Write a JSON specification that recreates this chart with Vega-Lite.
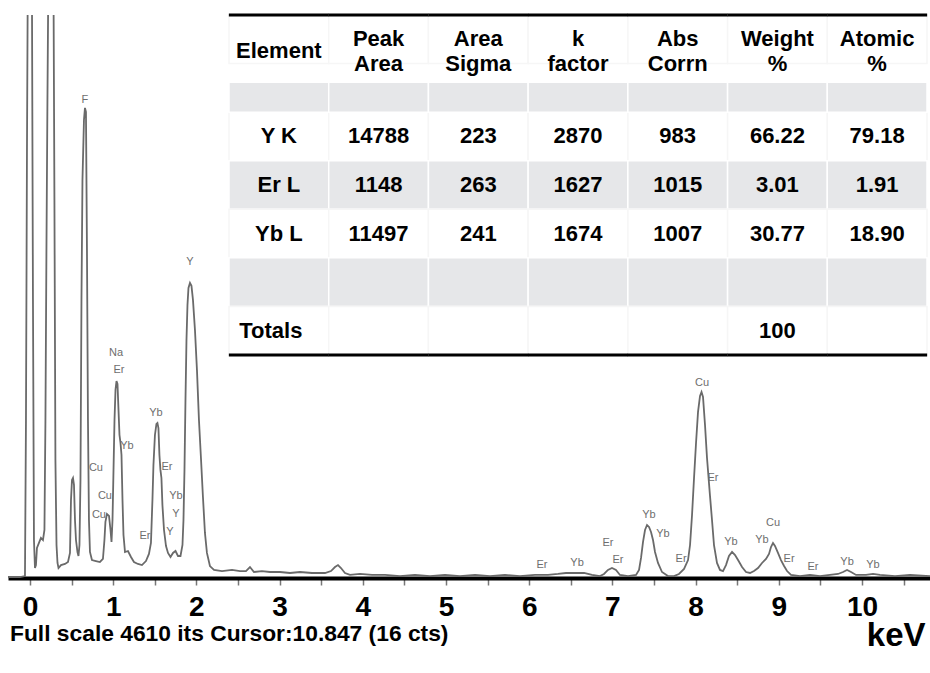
{
  "$schema": "https://vega.github.io/schema/vega-lite/v6.json",
  "width": 922,
  "height": 563,
  "autosize": {"type": "none"},
  "padding": {"left": 8, "top": 15, "right": 0, "bottom": 95},
  "background": "white",
  "config": {"view": {"stroke": null}, "font": "Liberation Sans"},
  "title": {
    "text": "Full scale 4610 its Cursor:10.847 (16 cts)",
    "orient": "bottom",
    "anchor": "start",
    "frame": "group",
    "font": "Liberation Sans",
    "fontSize": 22.8,
    "fontWeight": "bold",
    "color": "black",
    "offset": 0,
    "dx": 2,
    "dy": -29
  },
  "datasets": {
    "spectrum": [
      {"keV": -0.264, "counts": 8}, {"keV": -0.12, "counts": 8}, {"keV": -0.06, "counts": 16}, {"keV": -0.048, "counts": 1294}, {"keV": -0.036, "counts": 3505}, {"keV": -0.024, "counts": 5200}, {"keV": -0.006, "counts": 12000}, {"keV": 0.018, "counts": 6000}, {"keV": 0.036, "counts": 2277}, {"keV": 0.048, "counts": 311}, {"keV": 0.06, "counts": 82}, {"keV": 0.072, "counts": 106}, {"keV": 0.084, "counts": 246}, {"keV": 0.108, "counts": 287}, {"keV": 0.132, "counts": 328}, {"keV": 0.156, "counts": 311}, {"keV": 0.174, "counts": 393}, {"keV": 0.186, "counts": 1294}, {"keV": 0.198, "counts": 2686}, {"keV": 0.21, "counts": 3915}, {"keV": 0.222, "counts": 5000}, {"keV": 0.252, "counts": 14000}, {"keV": 0.282, "counts": 5000}, {"keV": 0.294, "counts": 3096}, {"keV": 0.306, "counts": 966}, {"keV": 0.319, "counts": 270}, {"keV": 0.331, "counts": 123}, {"keV": 0.343, "counts": 82}, {"keV": 0.373, "counts": 106}, {"keV": 0.421, "counts": 115}, {"keV": 0.457, "counts": 131}, {"keV": 0.481, "counts": 205}, {"keV": 0.493, "counts": 639}, {"keV": 0.505, "counts": 803}, {"keV": 0.517, "counts": 819}, {"keV": 0.529, "counts": 762}, {"keV": 0.541, "counts": 475}, {"keV": 0.553, "counts": 311}, {"keV": 0.571, "counts": 213}, {"keV": 0.583, "counts": 180}, {"keV": 0.595, "counts": 270}, {"keV": 0.607, "counts": 803}, {"keV": 0.619, "counts": 2277}, {"keV": 0.631, "counts": 3260}, {"keV": 0.649, "counts": 3751}, {"keV": 0.661, "counts": 3849}, {"keV": 0.673, "counts": 3817}, {"keV": 0.685, "counts": 2686}, {"keV": 0.697, "counts": 1294}, {"keV": 0.709, "counts": 475}, {"keV": 0.721, "counts": 213}, {"keV": 0.745, "counts": 147}, {"keV": 0.793, "counts": 139}, {"keV": 0.841, "counts": 131}, {"keV": 0.877, "counts": 156}, {"keV": 0.895, "counts": 311}, {"keV": 0.907, "counts": 459}, {"keV": 0.925, "counts": 524}, {"keV": 0.95, "counts": 508}, {"keV": 0.968, "counts": 393}, {"keV": 0.98, "counts": 295}, {"keV": 0.992, "counts": 475}, {"keV": 1.004, "counts": 885}, {"keV": 1.016, "counts": 1294}, {"keV": 1.028, "counts": 1540}, {"keV": 1.04, "counts": 1613}, {"keV": 1.052, "counts": 1589}, {"keV": 1.064, "counts": 1376}, {"keV": 1.076, "counts": 1171}, {"keV": 1.088, "counts": 1106}, {"keV": 1.1, "counts": 1007}, {"keV": 1.112, "counts": 639}, {"keV": 1.124, "counts": 352}, {"keV": 1.142, "counts": 213}, {"keV": 1.178, "counts": 221}, {"keV": 1.214, "counts": 172}, {"keV": 1.25, "counts": 131}, {"keV": 1.298, "counts": 115}, {"keV": 1.346, "counts": 106}, {"keV": 1.394, "counts": 139}, {"keV": 1.43, "counts": 197}, {"keV": 1.454, "counts": 287}, {"keV": 1.472, "counts": 639}, {"keV": 1.484, "counts": 925}, {"keV": 1.502, "counts": 1171}, {"keV": 1.52, "counts": 1261}, {"keV": 1.532, "counts": 1269}, {"keV": 1.544, "counts": 1228}, {"keV": 1.556, "counts": 1007}, {"keV": 1.568, "counts": 885}, {"keV": 1.58, "counts": 819}, {"keV": 1.592, "counts": 598}, {"keV": 1.611, "counts": 393}, {"keV": 1.635, "counts": 262}, {"keV": 1.659, "counts": 205}, {"keV": 1.689, "counts": 172}, {"keV": 1.719, "counts": 205}, {"keV": 1.749, "counts": 221}, {"keV": 1.779, "counts": 180}, {"keV": 1.809, "counts": 180}, {"keV": 1.833, "counts": 270}, {"keV": 1.845, "counts": 475}, {"keV": 1.857, "counts": 885}, {"keV": 1.869, "counts": 1458}, {"keV": 1.881, "counts": 1949}, {"keV": 1.893, "counts": 2236}, {"keV": 1.905, "counts": 2375}, {"keV": 1.923, "counts": 2416}, {"keV": 1.941, "counts": 2392}, {"keV": 1.959, "counts": 2277}, {"keV": 1.983, "counts": 2031}, {"keV": 2.007, "counts": 1704}, {"keV": 2.031, "counts": 1294}, {"keV": 2.055, "counts": 983}, {"keV": 2.079, "counts": 663}, {"keV": 2.103, "counts": 369}, {"keV": 2.127, "counts": 205}, {"keV": 2.163, "counts": 98}, {"keV": 2.212, "counts": 66}, {"keV": 2.308, "counts": 57}, {"keV": 2.428, "counts": 66}, {"keV": 2.524, "counts": 57}, {"keV": 2.596, "counts": 57}, {"keV": 2.644, "counts": 90}, {"keV": 2.692, "counts": 49}, {"keV": 2.788, "counts": 57}, {"keV": 2.885, "counts": 49}, {"keV": 3.005, "counts": 49}, {"keV": 3.125, "counts": 41}, {"keV": 3.245, "counts": 49}, {"keV": 3.389, "counts": 41}, {"keV": 3.546, "counts": 41}, {"keV": 3.618, "counts": 57}, {"keV": 3.666, "counts": 90}, {"keV": 3.702, "counts": 106}, {"keV": 3.738, "counts": 82}, {"keV": 3.786, "counts": 41}, {"keV": 3.846, "counts": 25}, {"keV": 3.966, "counts": 33}, {"keV": 4.111, "counts": 25}, {"keV": 4.267, "counts": 25}, {"keV": 4.447, "counts": 16}, {"keV": 4.627, "counts": 25}, {"keV": 4.808, "counts": 16}, {"keV": 4.988, "counts": 25}, {"keV": 5.168, "counts": 16}, {"keV": 5.349, "counts": 25}, {"keV": 5.529, "counts": 16}, {"keV": 5.709, "counts": 25}, {"keV": 5.889, "counts": 16}, {"keV": 6.07, "counts": 25}, {"keV": 6.226, "counts": 25}, {"keV": 6.346, "counts": 33}, {"keV": 6.442, "counts": 41}, {"keV": 6.55, "counts": 41}, {"keV": 6.659, "counts": 41}, {"keV": 6.755, "counts": 25}, {"keV": 6.851, "counts": 16}, {"keV": 6.899, "counts": 33}, {"keV": 6.947, "counts": 66}, {"keV": 6.995, "counts": 82}, {"keV": 7.043, "counts": 66}, {"keV": 7.091, "counts": 25}, {"keV": 7.188, "counts": 16}, {"keV": 7.284, "counts": 25}, {"keV": 7.32, "counts": 66}, {"keV": 7.344, "counts": 164}, {"keV": 7.368, "counts": 295}, {"keV": 7.392, "counts": 393}, {"keV": 7.416, "counts": 434}, {"keV": 7.44, "counts": 418}, {"keV": 7.464, "counts": 377}, {"keV": 7.488, "counts": 311}, {"keV": 7.512, "counts": 213}, {"keV": 7.548, "counts": 123}, {"keV": 7.596, "counts": 49}, {"keV": 7.668, "counts": 16}, {"keV": 7.74, "counts": 16}, {"keV": 7.8, "counts": 33}, {"keV": 7.861, "counts": 74}, {"keV": 7.909, "counts": 147}, {"keV": 7.933, "counts": 270}, {"keV": 7.957, "counts": 516}, {"keV": 7.981, "counts": 819}, {"keV": 8.005, "counts": 1106}, {"keV": 8.029, "counts": 1360}, {"keV": 8.053, "counts": 1491}, {"keV": 8.071, "counts": 1523}, {"keV": 8.089, "counts": 1482}, {"keV": 8.113, "counts": 1253}, {"keV": 8.137, "counts": 983}, {"keV": 8.155, "counts": 827}, {"keV": 8.173, "counts": 672}, {"keV": 8.197, "counts": 475}, {"keV": 8.221, "counts": 270}, {"keV": 8.257, "counts": 123}, {"keV": 8.293, "counts": 66}, {"keV": 8.329, "counts": 57}, {"keV": 8.365, "counts": 106}, {"keV": 8.401, "counts": 180}, {"keV": 8.438, "counts": 213}, {"keV": 8.474, "counts": 188}, {"keV": 8.51, "counts": 147}, {"keV": 8.558, "counts": 90}, {"keV": 8.606, "counts": 49}, {"keV": 8.654, "counts": 41}, {"keV": 8.702, "counts": 57}, {"keV": 8.75, "counts": 82}, {"keV": 8.798, "counts": 123}, {"keV": 8.846, "counts": 156}, {"keV": 8.882, "counts": 197}, {"keV": 8.906, "counts": 254}, {"keV": 8.93, "counts": 287}, {"keV": 8.954, "counts": 262}, {"keV": 8.99, "counts": 205}, {"keV": 9.026, "counts": 147}, {"keV": 9.063, "counts": 98}, {"keV": 9.099, "counts": 57}, {"keV": 9.147, "counts": 25}, {"keV": 9.255, "counts": 16}, {"keV": 9.375, "counts": 25}, {"keV": 9.495, "counts": 16}, {"keV": 9.615, "counts": 25}, {"keV": 9.712, "counts": 33}, {"keV": 9.772, "counts": 49}, {"keV": 9.82, "counts": 66}, {"keV": 9.868, "counts": 49}, {"keV": 9.928, "counts": 25}, {"keV": 10.048, "counts": 25}, {"keV": 10.132, "counts": 33}, {"keV": 10.216, "counts": 25}, {"keV": 10.397, "counts": 16}, {"keV": 10.577, "counts": 25}, {"keV": 10.817, "counts": 16}
    ],
    "peaks": [
      {"label": "F", "keV": 0.661, "counts": 3915},
      {"label": "Y", "keV": 1.923, "counts": 2588},
      {"label": "Na", "keV": 1.034, "counts": 1843},
      {"label": "Er", "keV": 1.07, "counts": 1704},
      {"label": "Yb", "keV": 1.166, "counts": 1081},
      {"label": "Cu", "keV": 0.793, "counts": 901},
      {"label": "Cu", "keV": 0.901, "counts": 672},
      {"label": "Cu", "keV": 0.829, "counts": 516},
      {"label": "Yb", "keV": 1.514, "counts": 1351},
      {"label": "Er", "keV": 1.647, "counts": 909},
      {"label": "Yb", "keV": 1.755, "counts": 672},
      {"label": "Y", "keV": 1.755, "counts": 524},
      {"label": "Y", "keV": 1.683, "counts": 377},
      {"label": "Er", "keV": 1.382, "counts": 344},
      {"label": "Er", "keV": 6.154, "counts": 106},
      {"label": "Yb", "keV": 6.575, "counts": 123},
      {"label": "Er", "keV": 6.947, "counts": 287},
      {"label": "Er", "keV": 7.067, "counts": 147},
      {"label": "Yb", "keV": 7.44, "counts": 516},
      {"label": "Yb", "keV": 7.608, "counts": 360},
      {"label": "Er", "keV": 7.825, "counts": 156},
      {"label": "Cu", "keV": 8.077, "counts": 1597},
      {"label": "Er", "keV": 8.209, "counts": 819},
      {"label": "Yb", "keV": 8.425, "counts": 295},
      {"label": "Yb", "keV": 8.798, "counts": 311},
      {"label": "Cu", "keV": 8.93, "counts": 450},
      {"label": "Er", "keV": 9.123, "counts": 156},
      {"label": "Er", "keV": 9.411, "counts": 90},
      {"label": "Yb", "keV": 9.82, "counts": 131},
      {"label": "Yb", "keV": 10.132, "counts": 106}
    ],
    "table": [
      {"row": "header", "col": "Element", "text": "Element"},
      {"row": "header", "col": "Peak Area", "text": "Peak\nArea"},
      {"row": "header", "col": "Area Sigma", "text": "Area\nSigma"},
      {"row": "header", "col": "k factor", "text": "k\nfactor"},
      {"row": "header", "col": "Abs Corrn", "text": "Abs\nCorrn"},
      {"row": "header", "col": "Weight %", "text": "Weight\n%"},
      {"row": "header", "col": "Atomic %", "text": "Atomic\n%"},
      {"row": "blank1", "col": "Element", "text": ""},
      {"row": "blank1", "col": "Peak Area", "text": ""},
      {"row": "blank1", "col": "Area Sigma", "text": ""},
      {"row": "blank1", "col": "k factor", "text": ""},
      {"row": "blank1", "col": "Abs Corrn", "text": ""},
      {"row": "blank1", "col": "Weight %", "text": ""},
      {"row": "blank1", "col": "Atomic %", "text": ""},
      {"row": "Y K", "col": "Element", "text": "Y K"},
      {"row": "Y K", "col": "Peak Area", "text": "14788"},
      {"row": "Y K", "col": "Area Sigma", "text": "223"},
      {"row": "Y K", "col": "k factor", "text": "2870"},
      {"row": "Y K", "col": "Abs Corrn", "text": "983"},
      {"row": "Y K", "col": "Weight %", "text": "66.22"},
      {"row": "Y K", "col": "Atomic %", "text": "79.18"},
      {"row": "Er L", "col": "Element", "text": "Er L"},
      {"row": "Er L", "col": "Peak Area", "text": "1148"},
      {"row": "Er L", "col": "Area Sigma", "text": "263"},
      {"row": "Er L", "col": "k factor", "text": "1627"},
      {"row": "Er L", "col": "Abs Corrn", "text": "1015"},
      {"row": "Er L", "col": "Weight %", "text": "3.01"},
      {"row": "Er L", "col": "Atomic %", "text": "1.91"},
      {"row": "Yb L", "col": "Element", "text": "Yb L"},
      {"row": "Yb L", "col": "Peak Area", "text": "11497"},
      {"row": "Yb L", "col": "Area Sigma", "text": "241"},
      {"row": "Yb L", "col": "k factor", "text": "1674"},
      {"row": "Yb L", "col": "Abs Corrn", "text": "1007"},
      {"row": "Yb L", "col": "Weight %", "text": "30.77"},
      {"row": "Yb L", "col": "Atomic %", "text": "18.90"},
      {"row": "blank2", "col": "Element", "text": ""},
      {"row": "blank2", "col": "Peak Area", "text": ""},
      {"row": "blank2", "col": "Area Sigma", "text": ""},
      {"row": "blank2", "col": "k factor", "text": ""},
      {"row": "blank2", "col": "Abs Corrn", "text": ""},
      {"row": "blank2", "col": "Weight %", "text": ""},
      {"row": "blank2", "col": "Atomic %", "text": ""},
      {"row": "Totals", "col": "Element", "text": "Totals"},
      {"row": "Totals", "col": "Peak Area", "text": ""},
      {"row": "Totals", "col": "Area Sigma", "text": ""},
      {"row": "Totals", "col": "k factor", "text": ""},
      {"row": "Totals", "col": "Abs Corrn", "text": ""},
      {"row": "Totals", "col": "Weight %", "text": "100"},
      {"row": "Totals", "col": "Atomic %", "text": ""}
    ]
  },
  "layer": [
    {
      "layer": [
        {
          "data": {"name": "spectrum"},
          "mark": {"type": "line", "color": "#6a6a6a", "strokeWidth": 1.8, "clip": true},
          "encoding": {
            "x": {
              "field": "keV",
              "type": "quantitative",
              "scale": {"domain": [-0.264, 10.817], "nice": false, "zero": false},
              "axis": {
                "values": [0, 0.5, 1, 1.5, 2, 2.5, 3, 3.5, 4, 4.5, 5, 5.5, 6, 6.5, 7, 7.5, 8, 8.5, 9, 9.5, 10, 10.5],
                "labelExpr": "datum.value % 1 === 0 ? format(datum.value, 'd') : ''",
                "grid": false,
                "domain": true,
                "domainColor": "black",
                "domainWidth": 4,
                "ticks": true,
                "tickColor": "#777777",
                "tickSize": 7,
                "tickWidth": 1.5,
                "labelFont": "Liberation Sans",
                "labelFontSize": 28,
                "labelFontWeight": "bold",
                "labelColor": "black",
                "labelPadding": 8,
                "labelOverlap": false,
                "title": "keV",
                "titleFont": "Liberation Sans",
                "titleFontSize": 33,
                "titleFontWeight": "bold",
                "titleColor": "black",
                "titleAlign": "right",
                "titleBaseline": "middle",
                "titleX": 917,
                "titleY": 57
              }
            },
            "y": {
              "field": "counts",
              "type": "quantitative",
              "scale": {"domain": [0, 4610], "nice": false, "zero": true},
              "axis": null
            }
          }
        },
        {
          "data": {"name": "peaks"},
          "mark": {"type": "text", "font": "Liberation Sans", "fontSize": 11, "color": "#6e6e6e", "align": "center", "baseline": "middle"},
          "encoding": {
            "x": {"field": "keV", "type": "quantitative"},
            "y": {"field": "counts", "type": "quantitative"},
            "text": {"field": "label"}
          }
        }
      ]
    },
    {
      "data": {"name": "table"},
      "encoding": {
        "x": {
          "field": "col",
          "type": "nominal",
          "scale": {"domain": ["Element", "Peak Area", "Area Sigma", "k factor", "Abs Corrn", "Weight %", "Atomic %"], "range": [221, 919], "paddingInner": 0, "paddingOuter": 0},
          "axis": null
        },
        "y": {
          "field": "row",
          "type": "nominal",
          "scale": {"domain": ["header", "blank1", "Y K", "Er L", "Yb L", "blank2", "Totals"], "range": [0, 340], "paddingInner": 0, "paddingOuter": 0},
          "axis": null
        }
      },
      "layer": [
        {
          "transform": [{"filter": "datum.row !== 'blank1'"}],
          "mark": {"type": "rect", "strokeWidth": 1.5},
          "encoding": {
            "fill": {"condition": {"test": "datum.row === 'Er L' || datum.row === 'blank2'", "value": "#e6e7e9"}, "value": "white"},
            "stroke": {"condition": {"test": "datum.row === 'Er L' || datum.row === 'blank2'", "value": "#ffffff"}, "value": "#f6f6f6"}
          }
        },
        {
          "transform": [{"filter": "datum.row === 'blank1'"}],
          "mark": {"type": "rect", "height": 30, "yOffset": 9.5, "fill": "#e6e7e9", "stroke": "#ffffff", "strokeWidth": 1.5}
        },
        {
          "transform": [{"filter": "datum.row !== 'header' && datum.text !== '' && datum.row !== 'Totals'"}],
          "mark": {"type": "text", "font": "Liberation Sans", "fontSize": 22, "fontWeight": "bold", "color": "black", "align": "center", "baseline": "middle"},
          "encoding": {"text": {"field": "text"}}
        },
        {
          "transform": [{"filter": "datum.row === 'Totals' && datum.col === 'Weight %'"}],
          "mark": {"type": "text", "font": "Liberation Sans", "fontSize": 22, "fontWeight": "bold", "color": "black", "align": "center", "baseline": "middle"},
          "encoding": {"text": {"field": "text"}}
        },
        {
          "transform": [{"filter": "datum.row === 'header' && datum.col !== 'Element'"}],
          "mark": {"type": "text", "font": "Liberation Sans", "fontSize": 22, "fontWeight": "bold", "color": "black", "align": "center", "baseline": "middle", "lineBreak": "\n", "lineHeight": 25},
          "encoding": {"text": {"field": "text"}}
        },
        {
          "transform": [{"filter": "datum.row === 'header' && datum.col === 'Element'"}],
          "mark": {"type": "text", "font": "Liberation Sans", "fontSize": 22, "fontWeight": "bold", "color": "black", "align": "center", "baseline": "middle", "dy": 12},
          "encoding": {"text": {"field": "text"}}
        },
        {
          "transform": [{"filter": "datum.row === 'Totals' && datum.col === 'Element'"}],
          "mark": {"type": "text", "font": "Liberation Sans", "fontSize": 22, "fontWeight": "bold", "color": "black", "align": "center", "baseline": "middle", "dx": -8},
          "encoding": {"text": {"field": "text"}}
        },
        {
          "transform": [{"filter": "datum.row === 'header'"}],
          "mark": {"type": "tick", "orient": "horizontal", "size": 100, "thickness": 3, "color": "black", "opacity": 1},
          "encoding": {
            "y": {"field": "row", "type": "nominal", "bandPosition": 0}
          }
        },
        {
          "transform": [{"filter": "datum.row === 'Totals'"}],
          "mark": {"type": "tick", "orient": "horizontal", "size": 100, "thickness": 3, "color": "black", "opacity": 1},
          "encoding": {
            "y": {"field": "row", "type": "nominal", "bandPosition": 1}
          }
        }
      ]
    }
  ],
  "resolve": {
    "scale": {"x": "independent", "y": "independent"},
    "axis": {"x": "independent", "y": "independent"}
  }
}
